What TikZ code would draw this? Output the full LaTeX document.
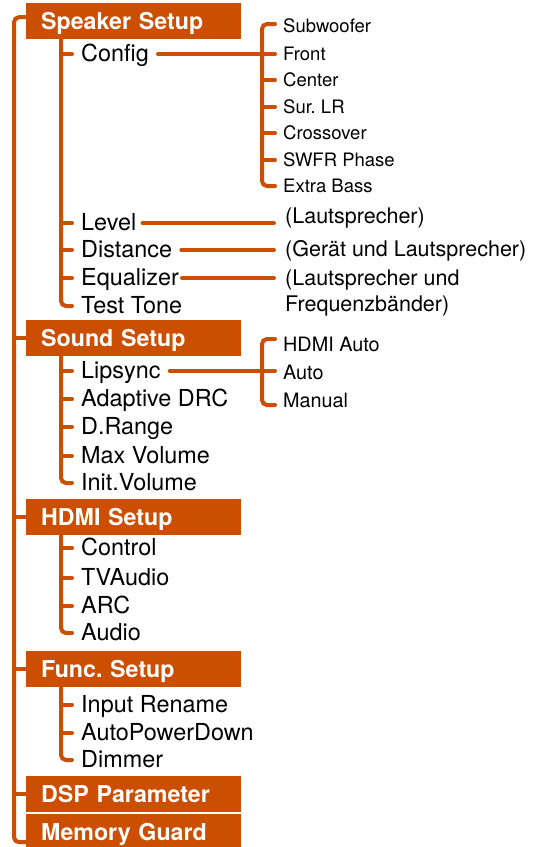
\documentclass[tikz,border=0pt]{standalone}
\usepackage{fontspec}
\setmainfont{TeX Gyre Heros}
\usepackage{xcolor}
\definecolor{menuorange}{RGB}{204,78,0}
\usetikzlibrary{calc}
\frenchspacing

\begin{document}
\begin{tikzpicture}[
  x=1pt, y=-1pt,
  menu/.style={rectangle,fill=menuorange,text=white,anchor=north west,text width=185pt,inner xsep=15pt,inner ysep=0pt,minimum height=36pt,text height=16pt,text depth=0pt,align=left,font=\fontsize{23.2}{25}\selectfont\bfseries},
  item/.style={anchor=west,inner sep=0pt,text height=15pt,text depth=0pt,font=\fontsize{23.4}{25}\selectfont},
  sub/.style={anchor=west,inner sep=0pt,text height=13pt,text depth=0pt,font=\fontsize{18.5}{20}\selectfont},
  note/.style={anchor=west,inner sep=0pt,align=left,font=\fontsize{21.5}{25.5}\selectfont},
  link/.style={draw=menuorange,line width=4pt,line cap=round,rounded corners=5pt}
]
  \useasboundingbox (0,0) rectangle (544,847);

  % Menu boxes
  \node[menu] (spk) at (26,3) {Speaker Setup};
  \node[menu] (snd) at (26,320) {Sound Setup};
  \node[menu] (hdmi) at (26,499) {HDMI Setup};
  \node[menu] (func) at (26,651) {Func. Setup};
  \node[menu] (dsp) at (26,776) {DSP Parameter};
  \node[menu] (mem) at (26,814) {Memory Guard};

  % Speaker Setup items
  \node[item] (cfg) at (81,54) {Config};
  \node[item] (lvl) at (81,223) {Level};
  \node[item] (dist) at (81,250) {Distance};
  \node[item] (eq) at (81,278) {Equalizer};
  \node[item] (tone) at (81,306) {Test Tone};

  % Config sub items
  \node[sub] (sw) at (283,26) {Subwoofer};
  \node[sub] (fr) at (283,54) {Front};
  \node[sub] (ce) at (283,80) {Center};
  \node[sub] (sur) at (283,107) {Sur. LR};
  \node[sub] (cro) at (283,133) {Crossover};
  \node[sub] (swfr) at (283,160) {SWFR Phase};
  \node[sub] (xb) at (283,186) {Extra Bass};

  % Notes
  \node[note] (ann1) at (285,218) {(Lautsprecher)};
  \node[note] (ann2) at (285,251) {(Gerät und Lautsprecher)};
  \node[note] (ann3) at (285,293) {(Lautsprecher und\\Frequenzbänder)};

  % Sound Setup items
  \node[item] (lip) at (81,371) {Lipsync};
  \node[item] (drc) at (81,399) {Adaptive DRC};
  \node[item] (drange) at (81,427) {D.Range};
  \node[item] (maxvol) at (81,456) {Max Volume};
  \node[item] (initvol) at (81,483) {Init.Volume};

  % Lipsync sub items
  \node[sub,font=\fontsize{19.8}{21}\selectfont] (hauto) at (283,345) {HDMI Auto};
  \node[sub,font=\fontsize{19.8}{21}\selectfont] (auto) at (283,373) {Auto};
  \node[sub,font=\fontsize{19.8}{21}\selectfont] (man) at (283,401) {Manual};

  % HDMI Setup items
  \node[item] (ctrl) at (81,548) {Control};
  \node[item] (tva) at (81,578) {TVAudio};
  \node[item] (arc) at (81,606) {ARC};
  \node[item] (aud) at (81,633) {Audio};

  % Func. Setup items
  \node[item] (ren) at (81,705) {Input Rename};
  \node[item] (apd) at (81,733) {AutoPowerDown};
  \node[item] (dim) at (81,760) {Dimmer};

  % Trunk
  \draw[link] ([yshift=4pt]spk.west) -| ([xshift=-12pt,yshift=-10pt]mem.west) -- ([yshift=-10pt]mem.west);
  \foreach \m in {snd,hdmi,func,dsp}
    \draw[link] (\m.west) -- ++(-12,0);

  % Branches
  \draw[link] ([xshift=35pt]spk.south west) |- ([xshift=-9pt]tone.west);
  \foreach \c in {cfg,lvl,dist,eq}
    \draw[link] ([xshift=-9pt]\c.west) -- ++(-11,0);
  \draw[link] ([xshift=35pt]snd.south west) |- ([xshift=-9pt]initvol.west);
  \foreach \c in {lip,drc,drange,maxvol}
    \draw[link] ([xshift=-9pt]\c.west) -- ++(-11,0);
  \draw[link] ([xshift=35pt]hdmi.south west) |- ([xshift=-9pt]aud.west);
  \foreach \c in {ctrl,tva,arc}
    \draw[link] ([xshift=-9pt]\c.west) -- ++(-11,0);
  \draw[link] ([xshift=35pt]func.south west) |- ([xshift=-9pt]dim.west);
  \foreach \c in {ren,apd}
    \draw[link] ([xshift=-9pt]\c.west) -- ++(-11,0);

  % Config bracket
  \draw[link] ([xshift=-8pt,yshift=2pt]sw.west) -| ([xshift=-21pt]xb.west) -- ([xshift=-8pt]xb.west);
  \foreach \s in {fr,ce,sur,cro,swfr}
    \draw[link] ([xshift=-8pt]\s.west) -- ++(-13,0);
  \draw[link] ([xshift=9pt]cfg.east) -- ([xshift=-21pt]fr.west);

  % Lipsync bracket
  \draw[link] ([xshift=-8pt,yshift=6pt]hauto.west) -| ([xshift=-21pt,yshift=-4pt]man.west) -- ([xshift=-8pt,yshift=-4pt]man.west);
  \draw[link] ([xshift=9pt]lip.east) -- ($(lip.east -| auto.west)+(-8,0)$);

  % Note lines
  \draw[link] ([xshift=6pt]lvl.east) -- ($(lvl.east -| ann1.west)+(-11,0)$);
  \draw[link] ([xshift=9pt]dist.east) -- ($(dist.east -| ann2.west)+(-11,0)$);
  \draw[link] ([xshift=3pt]eq.east) -- ($(eq.east -| ann3.west)+(-11,0)$);
\end{tikzpicture}
\end{document}
